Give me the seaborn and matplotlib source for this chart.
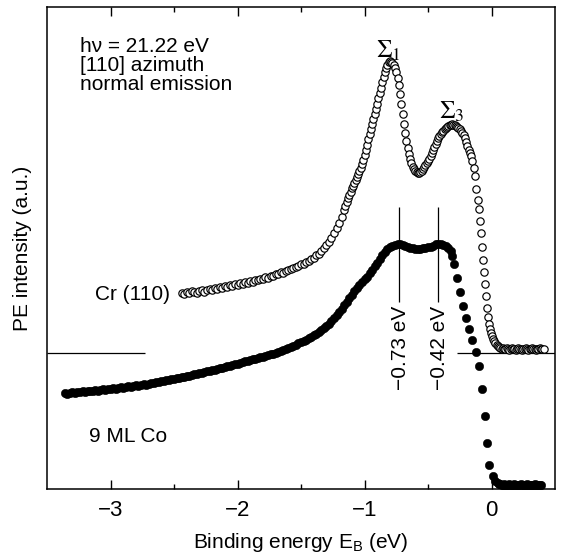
import matplotlib
matplotlib.use('Agg')
import matplotlib.pyplot as plt
import seaborn as sns

# ---------------- data ----------------
# Cr(110) spectrum (open circles): binding energy (eV), intensity (a.u.)
cr_x = [-2.44, -2.42, -2.40, -2.38, -2.36, -2.34, -2.32, -2.30, -2.28, -2.26,
        -2.24, -2.22, -2.20, -2.18, -2.16, -2.14, -2.12, -2.10, -2.08, -2.06,
        -2.04, -2.02, -2.00, -1.98, -1.96, -1.94, -1.92, -1.90, -1.88, -1.86,
        -1.84, -1.82, -1.80, -1.78, -1.76, -1.74, -1.72, -1.70, -1.68, -1.66,
        -1.64, -1.62, -1.60, -1.58, -1.56, -1.54, -1.52, -1.50, -1.48, -1.46,
        -1.44, -1.42, -1.40, -1.38, -1.36, -1.34, -1.32, -1.30, -1.28, -1.26,
        -1.24, -1.22, -1.20, -1.18, -1.16,
        -1.15, -1.14, -1.13, -1.12, -1.11, -1.10, -1.09, -1.08, -1.07, -1.06,
        -1.05, -1.04, -1.03, -1.02, -1.01, -1.00, -0.99, -0.98, -0.97, -0.96,
        -0.95, -0.94, -0.93, -0.92, -0.91, -0.90, -0.89, -0.88, -0.87, -0.86,
        -0.85, -0.84, -0.83, -0.82, -0.81, -0.80, -0.79, -0.78, -0.77, -0.76,
        -0.75, -0.74, -0.73, -0.72, -0.71, -0.70, -0.69, -0.68, -0.67, -0.66,
        -0.65, -0.64, -0.63, -0.62, -0.61, -0.60, -0.59, -0.58, -0.57, -0.56,
        -0.55, -0.54, -0.53, -0.52, -0.51, -0.50, -0.49, -0.48, -0.47, -0.46,
        -0.45, -0.44, -0.43, -0.42, -0.41, -0.40, -0.39, -0.38, -0.37, -0.36,
        -0.35, -0.34, -0.33, -0.32, -0.31, -0.30, -0.29, -0.28, -0.27, -0.26,
        -0.25, -0.24, -0.23, -0.22, -0.21, -0.20, -0.19, -0.18, -0.17, -0.16,
        -0.15, -0.14, -0.13, -0.12,
        -0.109, -0.100, -0.092, -0.085, -0.077, -0.068, -0.060, -0.052, -0.044,
        -0.036, -0.028, -0.020, -0.012, -0.004, 0.004, 0.012, 0.020, 0.030,
        0.040, 0.050, 0.060,
        0.07, 0.08, 0.09, 0.10, 0.11, 0.12, 0.13, 0.14, 0.15, 0.16,
        0.17, 0.18, 0.19, 0.20, 0.21, 0.22, 0.23, 0.24, 0.25, 0.26,
        0.27, 0.28, 0.29, 0.30, 0.31, 0.32, 0.33, 0.34, 0.35, 0.36,
        0.37, 0.38, 0.39, 0.40, 0.41]
cr_y = [196, 195, 197, 196, 198, 197, 196, 198, 199, 197,
        199, 200, 199, 201, 200, 202, 201, 203, 202, 204,
        203, 205, 204, 206, 205, 207, 206, 208, 207, 209,
        209, 210, 210, 212, 211, 213, 213, 215, 215, 217,
        216, 218, 219, 220, 221, 222, 223, 225, 225, 227,
        228, 230, 231, 234, 235, 238, 241, 244, 247, 251,
        256, 261, 266, 272, 279,
        283, 287, 291, 294, 297, 301, 303, 306, 309, 312,
        315, 318, 321, 325, 329, 334, 339, 344, 350, 355,
        360, 365, 370, 375, 380, 385, 391, 396, 401, 407,
        412, 417, 421, 424, 427, 428, 427, 426, 424, 421,
        417, 411, 404, 395, 385, 375, 365, 356, 348, 341,
        335, 330, 326, 322, 320, 318, 317, 316, 316, 317,
        318, 320, 322, 324, 326, 328, 330, 333, 336, 339,
        342, 345, 348, 351, 353, 355, 357, 358, 360, 361,
        362, 363, 364, 364, 365, 364, 364, 363, 362, 361,
        360, 358, 356, 354, 351, 347, 343, 339, 336, 333,
        328, 321, 313, 300,
        289, 280, 268, 256, 242, 229, 217, 205, 193,
        181, 172, 165, 160, 156, 153, 150, 148, 146,
        144, 143, 142,
        141, 140, 141, 140, 140, 141, 140, 139, 140, 141,
        140, 140, 139, 140, 141, 140, 140, 139, 140, 140,
        141, 140, 139, 140, 140, 141, 140, 140, 139, 140,
        140, 141, 140, 140, 140]

# 9 ML Co on Cr(110) (filled circles)
co_x = [-3.36, -3.34, -3.32, -3.30, -3.28, -3.26, -3.24, -3.22, -3.20, -3.18,
        -3.16, -3.14, -3.12, -3.10, -3.08, -3.06, -3.04, -3.02, -3.00, -2.98,
        -2.96, -2.94, -2.92, -2.90, -2.88, -2.86, -2.84, -2.82, -2.80, -2.78,
        -2.76, -2.74, -2.72, -2.70, -2.68, -2.66, -2.64, -2.62, -2.60, -2.58,
        -2.56, -2.54, -2.52, -2.50, -2.48, -2.46, -2.44, -2.42, -2.40, -2.38,
        -2.36, -2.34, -2.32, -2.30, -2.28, -2.26, -2.24, -2.22, -2.20, -2.18,
        -2.16, -2.14, -2.12, -2.10, -2.08, -2.06, -2.04, -2.02, -2.00, -1.98,
        -1.96, -1.94, -1.92, -1.90, -1.88, -1.86, -1.84, -1.82, -1.80, -1.78,
        -1.76, -1.74, -1.72, -1.70, -1.68, -1.66, -1.64, -1.62, -1.60, -1.58,
        -1.56, -1.54, -1.52, -1.50, -1.48, -1.46, -1.44, -1.42, -1.40, -1.38,
        -1.36, -1.34, -1.32, -1.30, -1.28, -1.26, -1.24, -1.22, -1.20, -1.18,
        -1.16, -1.14, -1.12, -1.10, -1.08, -1.06, -1.04, -1.02, -1.00, -0.98,
        -0.96, -0.94, -0.92, -0.90, -0.88, -0.86, -0.84, -0.82, -0.80, -0.78,
        -0.76, -0.74, -0.72, -0.70, -0.68, -0.66, -0.64, -0.62, -0.60, -0.58,
        -0.56, -0.54, -0.52, -0.50, -0.48, -0.46, -0.44, -0.42, -0.40, -0.38,
        -0.36, -0.34, -0.32,
        -0.31, -0.295, -0.27, -0.245, -0.222, -0.198, -0.174, -0.150, -0.124,
        -0.100, -0.078, -0.055, -0.038, -0.018, 0.008, 0.030, 0.05,
        0.06, 0.07, 0.08, 0.09, 0.10, 0.11, 0.12, 0.13, 0.14, 0.15,
        0.16, 0.17, 0.18, 0.19, 0.20, 0.21, 0.22, 0.23, 0.24, 0.25,
        0.26, 0.27, 0.28, 0.29, 0.30, 0.31, 0.32, 0.33, 0.34, 0.35,
        0.36, 0.37, 0.38, 0.39]
co_y = [96, 95, 96, 97, 96, 97, 97, 98, 97, 98,
        98, 98, 99, 98, 99, 100, 99, 100, 100, 101,
        100, 101, 102, 101, 102, 103, 102, 103, 104, 103,
        104, 105, 104, 105, 106, 106, 107, 107, 108, 108,
        109, 109, 110, 110, 111, 111, 112, 112, 113, 113,
        114, 115, 115, 116, 116, 117, 118, 118, 119, 119,
        120, 121, 121, 122, 123, 123, 124, 125, 125, 126,
        127, 128, 128, 129, 130, 130, 131, 132, 132, 133,
        134, 135, 135, 136, 137, 138, 139, 140, 141, 142,
        143, 144, 146, 147, 148, 149, 151, 152, 154, 155,
        157, 159, 161, 163, 165, 168, 171, 174, 177, 180,
        184, 187, 191, 194, 198, 201, 204, 207, 210, 212,
        216, 219, 223, 226, 230, 234, 237, 240, 242, 243,
        244, 245, 245, 244, 243, 242, 241, 241, 240, 240,
        240, 241, 241, 242, 242, 243, 245, 245, 245, 244,
        243, 241, 238,
        233, 225, 211, 197, 183, 171, 160, 149, 137,
        123, 100, 73, 46, 24, 13, 8, 6,
        5, 5, 4, 4, 5, 4, 4, 4, 5, 4,
        4, 4, 5, 4, 4, 4, 4, 5, 4, 4,
        4, 4, 5, 4, 4, 4, 4, 4, 5, 4,
        4, 4, 4, 4]

# reference levels / annotations
cr_zero = 136                    # zero line of the Cr(110) spectrum
co_peaks = [-0.73, -0.42]        # Co peak positions (eV)
co_peak_labels = ['\u22120.73 eV', '\u22120.42 eV']
sigma_labels = [r'$\Sigma_1$', r'$\Sigma_3$']
sigma_pos = [(-0.81, 438), (-0.31, 377)]
info_lines = ['h\u03bd = 21.22 eV', '[110] azimuth', 'normal emission']
x_ticks = [-3, -2, -1, 0]
x_tick_labels = ['\u22123', '\u22122', '\u22121', '0']
x_minor = [-2.5, -1.5, -0.5]

# ---------------- figure ----------------
sns.set_style('white')
plt.rcParams['font.family'] = ['Liberation Sans', 'DejaVu Sans']
plt.rcParams['mathtext.fontset'] = 'custom'
plt.rcParams['mathtext.rm'] = 'Liberation Sans'
plt.rcParams['mathtext.it'] = 'Liberation Sans:italic'
plt.rcParams['mathtext.bf'] = 'Liberation Sans:bold'
for key in ['text.color', 'axes.labelcolor', 'xtick.color', 'ytick.color',
            'axes.edgecolor']:
    plt.rcParams[key] = 'black'

fig = plt.figure(figsize=(5.62, 5.59), dpi=100)
ax = fig.add_axes([47 / 562, 1 - 489 / 559, 508 / 562, 482 / 559])

sns.scatterplot(x=co_x, y=co_y, marker='o', s=36, color='black',
                edgecolor='black', linewidth=0.4, ax=ax, clip_on=False,
                zorder=3, legend=False)
sns.scatterplot(x=cr_x, y=cr_y, marker='o', s=28, color='white',
                edgecolor='black', linewidth=0.85, ax=ax, clip_on=False,
                zorder=4, legend=False)

ax.set_xlim(-3.5, 0.5)
ax.set_ylim(0, 482)

# zero line of the Cr spectrum (two pieces)
ax.hlines(cr_zero, -3.5, -2.73, color='black', lw=0.9, zorder=2)
ax.hlines(cr_zero, -0.27, 0.5, color='black', lw=0.9, zorder=2)

# peak markers for Co
ax.vlines(co_peaks, 187, 282, color='black', lw=0.9, zorder=2)
for xp, lab in zip(co_peaks, co_peak_labels):
    ax.text(xp + 0.01, 141, lab, rotation=90, ha='center', va='center',
            fontsize=15, color='black')

for lab, (xs, ys) in zip(sigma_labels, sigma_pos):
    ax.text(xs, ys, lab, ha='center', va='center', fontsize=18,
            math_fontfamily='stix', color='black')

for i, line in enumerate(info_lines):
    ax.text(-3.24, 437 - 19 * i, line, ha='left', va='baseline', fontsize=15,
            color='black')

ax.text(-3.125, 189, 'Cr (110)', ha='left', va='baseline', fontsize=15,
        color='black')
ax.text(-3.17, 47, '9 ML Co', ha='left', va='baseline', fontsize=15,
        color='black')

ax.set_xticks(x_ticks)
ax.set_xticklabels(x_tick_labels)
ax.set_xticks(x_minor, minor=True)
ax.set_yticks([])
ax.tick_params(axis='x', which='both', direction='in', top=True, bottom=True,
               labelsize=16, pad=8, width=1.0, color='black',
               labelcolor='black')
ax.tick_params(axis='x', which='major', length=6.5)
ax.tick_params(axis='x', which='minor', length=3.3)
for sp in ax.spines.values():
    sp.set_linewidth(1.1)
    sp.set_color('black')

ax.set_xlabel(r'Binding energy E$_\mathrm{B}$ (eV)', fontsize=15, va='center',
              color='black')
ax.xaxis.set_label_coords(0.5, -0.112)
ax.set_ylabel('PE intensity (a.u.)', fontsize=15, va='center', color='black')
ax.yaxis.set_label_coords(-0.049, 0.5)

fig.savefig('out.png', dpi=100, facecolor='white')
